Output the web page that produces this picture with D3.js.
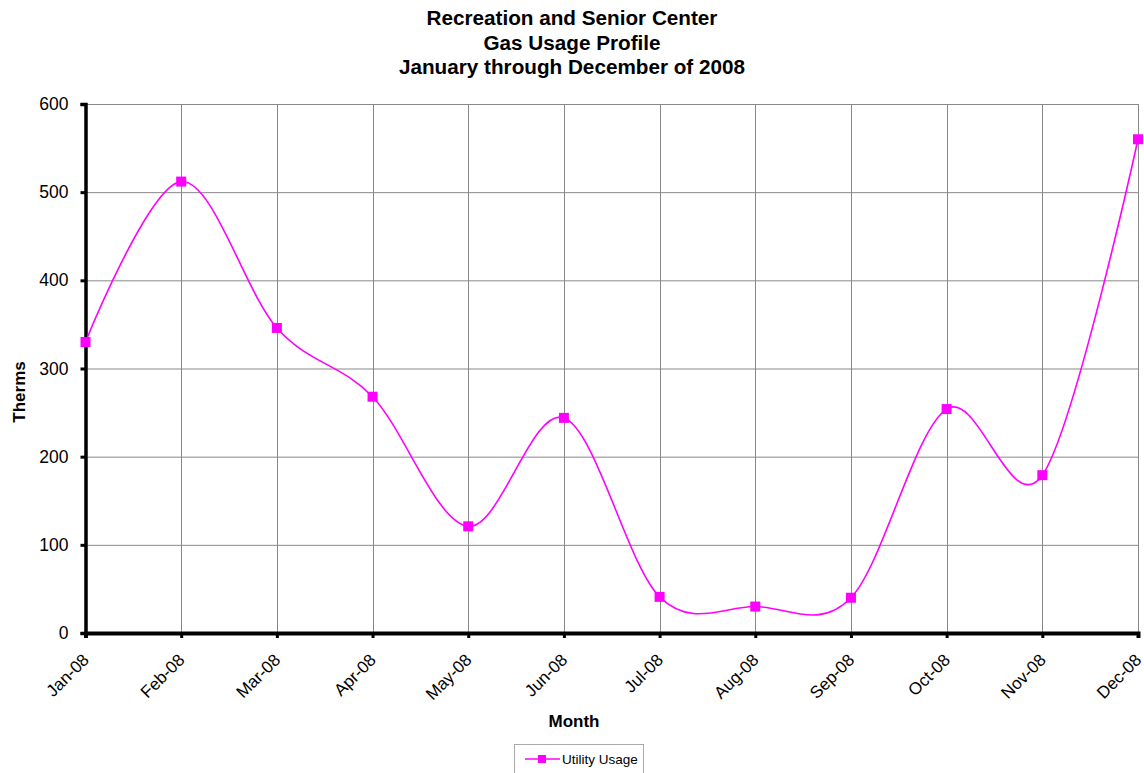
<!DOCTYPE html>
<html><head><meta charset="utf-8">
<script src="https://cdn.jsdelivr.net/npm/d3@7"></script>
<style>body{margin:0;background:#fff}svg{display:block;font-family:"Liberation Sans",Arial,sans-serif}</style>
</head><body><svg id="c" width="1144" height="773"></svg>
<script>
const months = ["Jan-08","Feb-08","Mar-08","Apr-08","May-08","Jun-08","Jul-08","Aug-08","Sep-08","Oct-08","Nov-08","Dec-08"];
const usage = [330, 512, 346, 268, 121, 244, 41, 30, 40, 254, 179, 560];
const yTicks = [0, 100, 200, 300, 400, 500, 600];
const titleLines = ["Recreation and Senior Center","Gas Usage Profile","January through December of 2008"];
const seriesName = "Utility Usage";

const svg = d3.select("#c");
const L = 85.5, R = 1138, T = 104, B = 633;
const x = d3.scalePoint().domain(months).range([L, R]);
const y = d3.scaleLinear().domain([0, 600]).range([B, T]);

// title
svg.append("g").selectAll("text").data(titleLines).join("text")
  .attr("x", 572).attr("y", (d,i)=>25 + i*24.5).attr("text-anchor","middle")
  .attr("font-size", 20.7).attr("font-weight","bold").text(d=>d);

// gridlines
svg.append("g").selectAll("line").data(yTicks.filter(d=>d>0)).join("line")
  .attr("x1", L).attr("x2", R).attr("y1", d=>y(d)+0.5).attr("y2", d=>y(d)+0.5)
  .attr("stroke", "#888").attr("stroke-width", 1);
svg.append("g").selectAll("line").data(months.slice(1)).join("line")
  .attr("x1", d=>Math.round(x(d))+0.5).attr("x2", d=>Math.round(x(d))+0.5).attr("y1", T).attr("y2", B)
  .attr("stroke", "#888").attr("stroke-width", 1);

// y axis
const ya = svg.append("g").attr("transform", `translate(${L},0)`)
  .call(d3.axisLeft(y).tickValues(yTicks).tickSize(5).tickPadding(12));
ya.select(".domain").attr("stroke","#000").attr("stroke-width",3.5);
ya.selectAll(".tick line").attr("stroke","#000").attr("stroke-width",3);
ya.selectAll(".tick text").attr("font-size",17.5).attr("fill","#000").attr("font-family","Liberation Sans, Arial, sans-serif");

// x axis
const xa = svg.append("g").attr("transform", `translate(0,${B})`)
  .call(d3.axisBottom(x).tickSize(5));
xa.select(".domain").attr("stroke","#000").attr("stroke-width",4);
xa.selectAll(".tick line").attr("stroke","#000").attr("stroke-width",3);
xa.selectAll(".tick text").attr("font-size",17).attr("fill","#000")
  .attr("font-family","Liberation Sans, Arial, sans-serif")
  .attr("text-anchor","end").attr("x",0).attr("y",0).attr("dy",null)
  .attr("transform","translate(4,28) rotate(-45)");

// axis titles
svg.append("text").attr("x", 574).attr("y", 727).attr("text-anchor","middle")
  .attr("font-size",17).attr("font-weight","bold").text("Month");
svg.append("text").attr("transform","translate(25,392) rotate(-90)").attr("text-anchor","middle")
  .attr("font-size",17).attr("font-weight","bold").text("Therms");

// line
const line = d3.line().x((d,i)=>x(months[i])).y(d=>y(d)).curve(d3.curveCardinal.tension(0));
svg.append("path").datum(usage).attr("d", line).attr("fill","none").attr("stroke","#ff00ff").attr("stroke-width",1.6);
svg.append("g").selectAll("rect").data(usage).join("rect")
  .attr("x",(d,i)=>x(months[i])-5).attr("y",d=>y(d)-5).attr("width",10).attr("height",10).attr("fill","#ff00ff");

// legend
const lg = svg.append("g");
lg.append("rect").attr("x",514.5).attr("y",744.5).attr("width",129).attr("height",40).attr("fill","#fff").attr("stroke","#aaa");
lg.append("line").attr("x1",525).attr("x2",560).attr("y1",759).attr("y2",759).attr("stroke","#ff00ff").attr("stroke-width",1.6);
lg.append("rect").attr("x",538).attr("y",755).attr("width",8).attr("height",8).attr("fill","#ff00ff");
lg.append("text").attr("x",562).attr("y",764).attr("font-size",13.5).text(seriesName);
</script></body></html>
